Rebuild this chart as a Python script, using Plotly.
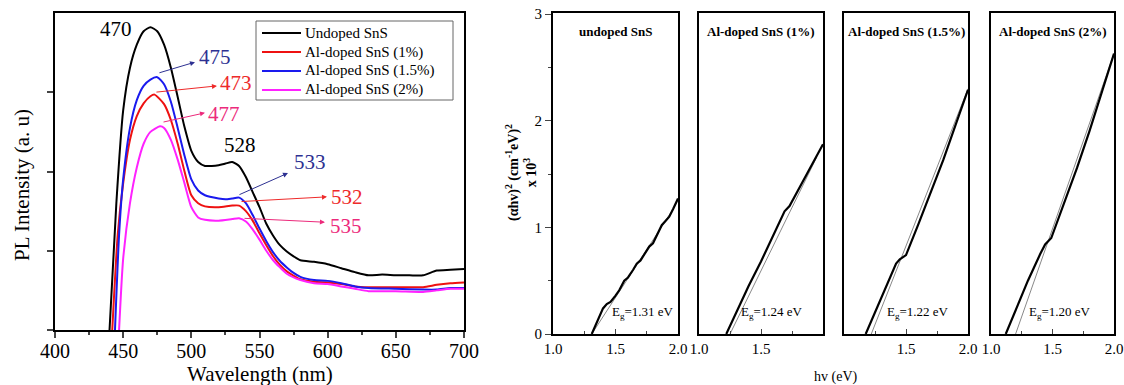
import plotly.graph_objects as go

FONT = "Liberation Serif, Times New Roman, serif"

# ---------------- Left panel: PL spectra ----------------
wl_black = [440, 445, 450, 455, 460, 465, 470, 475, 480, 485, 490, 495, 500, 505, 510, 515, 520, 525, 530,
            535, 540, 545, 550, 555, 560, 565, 570, 575, 580, 590, 600, 610, 620, 630, 640, 650, 660, 670,
            680, 690, 700]
pl_black = [0, 1.6, 2.77, 3.31, 3.6, 3.77, 3.82, 3.77, 3.6, 3.31, 2.94, 2.56, 2.26, 2.12, 2.07, 2.07, 2.08,
            2.1, 2.12, 2.07, 1.93, 1.74, 1.55, 1.34, 1.19, 1.07, 0.99, 0.93, 0.88, 0.86, 0.83, 0.78, 0.73,
            0.69, 0.70, 0.69, 0.69, 0.69, 0.75, 0.76, 0.77]

wl_red = [442, 446, 450, 455, 460, 465, 470, 473, 480, 485, 490, 495, 500, 505, 510, 520, 530, 535, 540,
          545, 550, 555, 560, 565, 570, 580, 590, 600, 610, 620, 630, 650, 670, 680, 690, 700]
pl_red = [0, 1.2, 1.85, 2.4, 2.7, 2.86, 2.95, 2.97, 2.85, 2.65, 2.35, 2.0, 1.7, 1.6, 1.56, 1.55, 1.57, 1.57,
          1.5, 1.38, 1.22, 1.07, 0.93, 0.82, 0.74, 0.64, 0.61, 0.6, 0.58, 0.55, 0.54, 0.54, 0.54, 0.57,
          0.59, 0.6]

wl_blue = [444, 447, 450, 455, 460, 465, 470, 475, 480, 485, 490, 495, 500, 505, 510, 520, 525, 530, 535,
           540, 545, 550, 555, 560, 565, 570, 575, 580, 590, 600, 610, 620, 630, 650, 670, 680, 690, 700]
pl_blue = [0, 1.2, 1.9, 2.55, 2.9, 3.08, 3.16, 3.19, 3.1, 2.88, 2.55, 2.2, 1.9, 1.76, 1.7, 1.66, 1.65, 1.66,
           1.67, 1.6, 1.45, 1.28, 1.12, 0.98, 0.87, 0.79, 0.72, 0.67, 0.63, 0.62, 0.59, 0.55, 0.53, 0.52,
           0.51, 0.51, 0.53, 0.53]

wl_mag = [447, 450, 455, 460, 465, 470, 477, 480, 485, 490, 495, 500, 505, 510, 520, 530, 535, 540, 545,
          550, 555, 560, 565, 570, 580, 590, 600, 610, 620, 630, 650, 670, 680, 690, 700]
pl_mag = [0, 0.9, 1.6, 2.05, 2.35, 2.5, 2.57, 2.55, 2.4, 2.15, 1.85, 1.55, 1.42, 1.39, 1.38, 1.4, 1.41, 1.37,
          1.27, 1.14, 1.0, 0.88, 0.79, 0.71, 0.63, 0.59, 0.58, 0.55, 0.52, 0.49, 0.49, 0.48, 0.5, 0.52, 0.52]

pl_names = ["Undoped SnS", "Al-doped SnS (1%)", "Al-doped SnS (1.5%)", "Al-doped SnS (2%)"]
pl_colors = ["#000000", "#ee1111", "#1a1aee", "#ff22ff"]

# ---------------- Right panels: Tauc plots ----------------
panel_titles = ["undoped SnS", "Al-doped SnS (1%)", "Al-doped SnS (1.5%)", "Al-doped SnS (2%)"]
eg_labels = ["1.31", "1.24", "1.22", "1.20"]

hv_1 = [1.31, 1.35, 1.40, 1.43, 1.46, 1.50, 1.53, 1.57, 1.60, 1.64, 1.67, 1.70, 1.74, 1.77, 1.80, 1.84,
        1.87, 1.90, 1.93, 1.96, 2.00]
ah_1 = [0, 0.1, 0.24, 0.28, 0.3, 0.36, 0.41, 0.5, 0.53, 0.6, 0.66, 0.69, 0.77, 0.82, 0.85, 0.94, 1.02,
        1.06, 1.1, 1.17, 1.27]
hv_2 = [1.22, 1.30, 1.40, 1.50, 1.60, 1.66, 1.69, 1.73, 1.80, 1.90, 2.0]
ah_2 = [0, 0.2, 0.45, 0.68, 0.92, 1.08, 1.15, 1.2, 1.35, 1.56, 1.78]
hv_3 = [1.175, 1.25, 1.35, 1.42, 1.45, 1.5, 1.6, 1.7, 1.8, 1.9, 2.0]
ah_3 = [0, 0.2, 0.48, 0.66, 0.7, 0.74, 1.03, 1.33, 1.63, 1.96, 2.29]
hv_4 = [1.12, 1.2, 1.3, 1.4, 1.44, 1.49, 1.6, 1.7, 1.8, 1.9, 2.0]
ah_4 = [0, 0.22, 0.5, 0.75, 0.84, 0.9, 1.24, 1.56, 1.9, 2.26, 2.63]

fit_hv = [[1.31, 1.96], [1.25, 1.95], [1.22, 2.0], [1.2, 2.0]]
fit_ah = [[0, 1.17], [0, 1.66], [0, 2.3], [0, 2.63]]

tauc_hv = [hv_1, hv_2, hv_3, hv_4]
tauc_ah = [ah_1, ah_2, ah_3, ah_4]
panel_ticks = [[1.0, 1.5, 2.0], [1.0, 1.5], [1.5, 2.0], [1.0, 1.5, 2.0]]

W, H = 1124, 385
fig = go.Figure()

for wl, pl, name, col in zip([wl_black, wl_red, wl_blue, wl_mag], [pl_black, pl_red, pl_blue, pl_mag],
                             pl_names, pl_colors):
    fig.add_trace(go.Scatter(x=wl, y=pl, mode="lines", name=name, showlegend=False,
                             line=dict(color=col, width=2, shape="spline", smoothing=0.6),
                             xaxis="x", yaxis="y"))

panel_dom = [(553, 678), (699, 823), (844, 968), (991, 1114)]
for i in range(4):
    xa = f"x{i + 2}"
    ya = f"y{i + 2}"
    fig.add_trace(go.Scatter(x=fit_hv[i], y=fit_ah[i], mode="lines", showlegend=False,
                             line=dict(color="#888888", width=1), xaxis=xa, yaxis=ya))
    fig.add_trace(go.Scatter(x=tauc_hv[i], y=tauc_ah[i], mode="lines", showlegend=False,
                             line=dict(color="#000000", width=2.2), xaxis=xa, yaxis=ya))

layout = dict(
    width=W, height=H, margin=dict(l=0, r=0, t=0, b=0, autoexpand=False),
    paper_bgcolor="white", plot_bgcolor="white",
    font=dict(family=FONT, color="black"),
    showlegend=False,
    xaxis=dict(domain=[55 / W, 464 / W], range=[400, 700], tickvals=[400, 450, 500, 550, 600, 650, 700],
               ticks="outside", ticklen=6, tickwidth=1.5, showline=True, linewidth=2, linecolor="black",
               mirror=True, showgrid=False, zeroline=False, tickfont=dict(size=20, family=FONT),
               ticklabelstandoff=-4,
               minor=dict(dtick=25, ticks="outside", ticklen=3, tickwidth=1.5), anchor="y", automargin=False),
    yaxis=dict(domain=[1 - 330 / H, 1 - 13 / H], range=[0, 4], tickvals=[0, 1, 2, 3], showticklabels=False,
               ticks="outside", ticklen=6, tickwidth=1.5, showline=True, linewidth=2, linecolor="black",
               mirror=True, showgrid=False, zeroline=False, anchor="x", automargin=False),
)

for i, (a, b) in enumerate(panel_dom):
    n = i + 2
    layout[f"xaxis{n}"] = dict(domain=[a / W, b / W], range=[1.0, 2.0], tickvals=panel_ticks[i],
                               ticktext=[f"{v:.1f}" for v in panel_ticks[i]],
                               ticks="inside", ticklen=5, tickwidth=1.2, showline=True, linewidth=2,
                               linecolor="black", mirror=True, showgrid=False, zeroline=False,
                               tickfont=dict(size=15, family=FONT),
                               minor=dict(tickvals=[1.25, 1.5, 1.75], ticks="inside", ticklen=3, tickwidth=1.2),
                               anchor=f"y{n}", automargin=False)
    layout[f"yaxis{n}"] = dict(domain=[1 - 334 / H, 1 - 13 / H], range=[0, 3.01],
                               tickvals=[0, 1, 2, 3], showticklabels=(i == 0),
                               ticks="outside" if i == 0 else "", ticklen=6, tickwidth=1.2,
                               showline=True, linewidth=2, linecolor="black", mirror=True,
                               showgrid=False, zeroline=False, tickfont=dict(size=15, family=FONT),
                               minor=dict(tickvals=[0.5, 1.5, 2.5], ticks="outside" if i == 0 else "",
                                          ticklen=3, tickwidth=1.2),
                               anchor=f"x{n}", automargin=False)

fig.update_layout(**layout)

ann = []
shapes = []
# Legend (drawn in paper pixels)
shapes.append(dict(type="rect", xref="paper", yref="paper", x0=256 / W, x1=453 / W, y0=1 - 100 / H,
                   y1=1 - 21 / H, line=dict(color="#666666", width=1), fillcolor="white", layer="above"))
for k, (name, col) in enumerate(zip(pl_names, pl_colors)):
    yy = 1 - (33 + 19 * k) / H
    shapes.append(dict(type="line", xref="paper", yref="paper", x0=262 / W, x1=301 / W, y0=yy, y1=yy,
                       line=dict(color=col, width=2), layer="above"))
    ann.append(dict(text=name, x=303 / W, y=yy, xref="paper", yref="paper", xanchor="left", yanchor="middle",
                    showarrow=False, font=dict(size=15, family=FONT)))

# Axis titles
ann.append(dict(text="Wavelength (nm)", x=260 / W, y=1 - 374 / H, xref="paper", yref="paper",
                xanchor="center", yanchor="middle", showarrow=False, font=dict(size=21, family=FONT)))
ann.append(dict(text="PL Intensity (a. u)", x=22 / W, y=1 - 185 / H, xref="paper", yref="paper",
                xanchor="center", yanchor="middle", showarrow=False, textangle=-90,
                font=dict(size=21, family=FONT)))
ann.append(dict(text="hv (eV)", x=835 / W, y=1 - 377 / H, xref="paper", yref="paper",
                xanchor="center", yanchor="middle", showarrow=False, font=dict(size=14, family=FONT)))
ann.append(dict(text="<b>(αhv)<sup>2</sup> (cm<sup>-1</sup>eV)<sup>2</sup></b><br><b>x 10<sup>3</sup></b>",
                x=521 / W, y=1 - 173 / H, xref="paper", yref="paper", xanchor="center", yanchor="middle",
                showarrow=False, textangle=-90, font=dict(size=14, family=FONT)))

# Peak labels and arrows (data coordinates of left axis)
NAVY, RED, PINK = "#2e3192", "#ee2a2a", "#ec2a7b"
ann.append(dict(text="470", x=444.7, y=3.8, xref="x", yref="y", showarrow=False, font=dict(size=21, color="black")))
ann.append(dict(text="528", x=535.7, y=2.33, xref="x", yref="y", showarrow=False, font=dict(size=21, color="black")))
arrows = [
    ("475", NAVY, 475.5, 3.24, 502.7, 3.38, 504.5, 3.44),
    ("473", RED, 473.3, 3.0, 518.8, 3.08, 519.5, 3.12),
    ("477", PINK, 478.5, 2.62, 510.0, 2.74, 511.0, 2.73),
    ("533", NAVY, 534.2, 1.70, 570.9, 1.98, 574.0, 2.12),
    ("532", RED, 535.7, 1.62, 599.5, 1.68, 601.0, 1.68),
    ("535", PINK, 537.9, 1.41, 598.0, 1.36, 600.0, 1.31),
]
for t, c, tx, ty, hx, hy, lx, ly in arrows:
    ann.append(dict(text="", x=hx, y=hy, ax=tx, ay=ty, xref="x", yref="y", axref="x", ayref="y",
                    showarrow=True, arrowhead=2, arrowsize=1, arrowwidth=1, arrowcolor=c))
    ann.append(dict(text=t, x=lx, y=ly, xref="x", yref="y", xanchor="left", showarrow=False,
                    font=dict(size=21, color=c, family=FONT)))

eg_x = [1.72, 1.59, 1.6, 1.56]
for i in range(4):
    n = i + 2
    ann.append(dict(text=f"<b>{panel_titles[i]}</b>", x=1.5, y=2.84, xref=f"x{n}", yref=f"y{n}",
                    showarrow=False, font=dict(size=13, family=FONT)))
    ann.append(dict(text=f"E<sub>g</sub>=" + eg_labels[i] + " eV", x=eg_x[i], y=0.2, xref=f"x{n}",
                    yref=f"y{n}", showarrow=False, font=dict(size=13, family=FONT)))

fig.update_layout(annotations=ann, shapes=shapes)
fig.write_html("out.html")
